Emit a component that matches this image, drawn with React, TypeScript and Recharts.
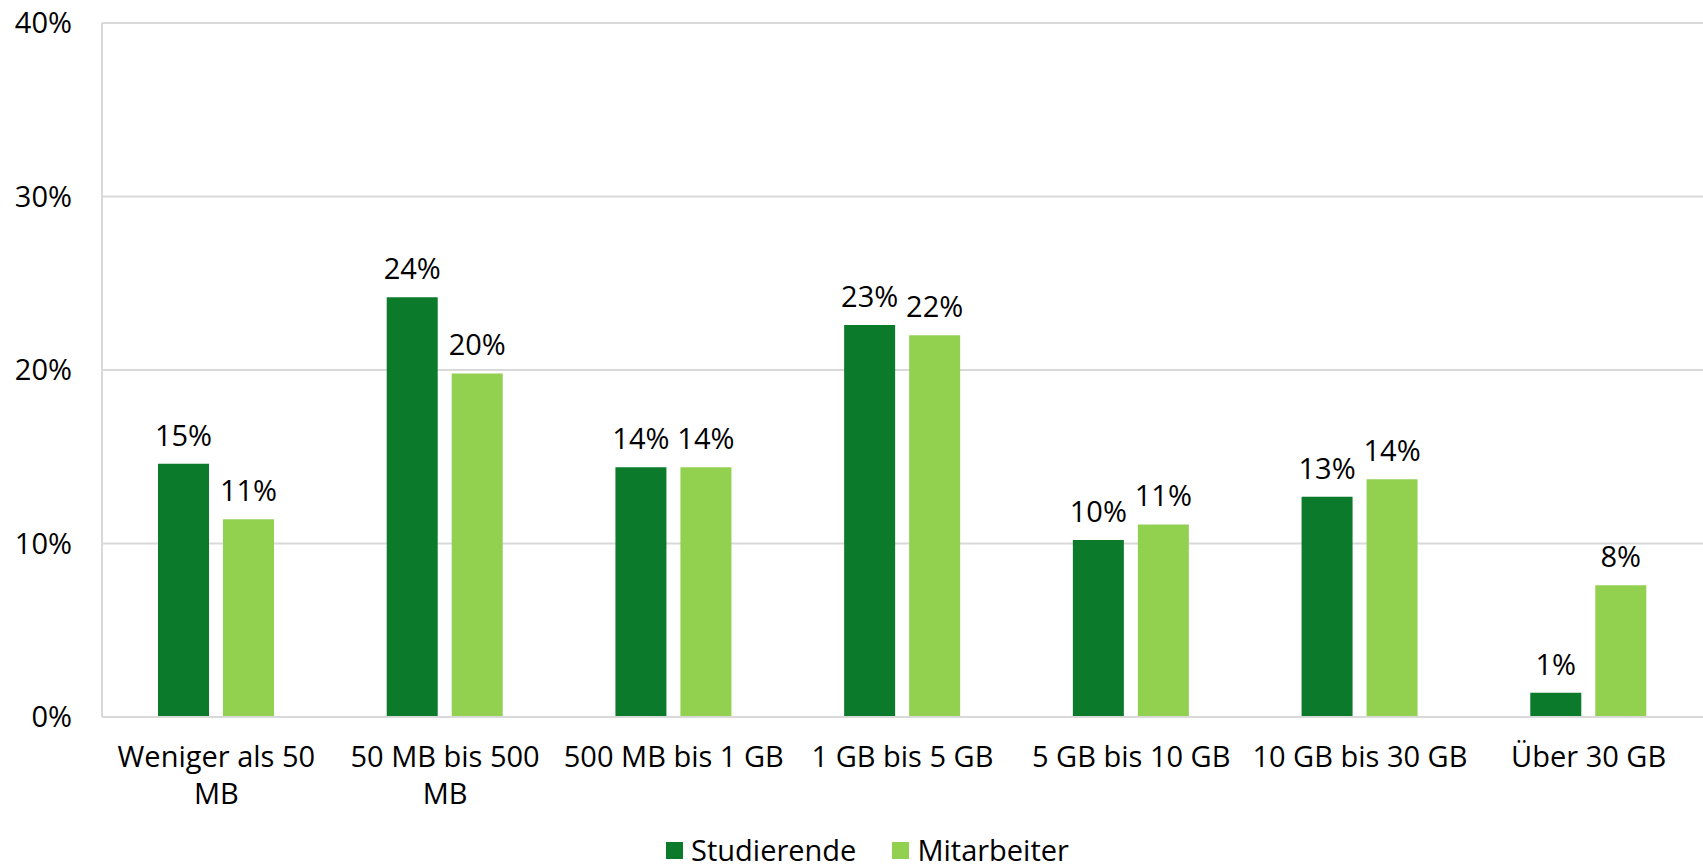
import React from "react";
import {
  BarChart,
  Bar,
  CartesianGrid,
  LabelList,
  Legend,
  XAxis,
  YAxis,
} from "recharts";

const CATEGORIES = [
  "Weniger als 50\nMB",
  "50 MB bis 500\nMB",
  "500 MB bis 1 GB",
  "1 GB bis 5 GB",
  "5 GB bis 10 GB",
  "10 GB bis 30 GB",
  "Über 30 GB",
];
const STUDIERENDE = [14.6, 24.2, 14.4, 22.6, 10.2, 12.7, 1.4];
const MITARBEITER = [11.4, 19.8, 14.4, 22.0, 11.1, 13.7, 7.6];
const Y_TICKS = [0, 10, 20, 30, 40];

const DARK = "#0b7a2a";
const LIGHT = "#92d050";
const FONT = "'Open Sans', 'Noto Sans', sans-serif";
const FS = 29;

const data = CATEGORIES.map((name, i) => ({
  name,
  studierende: STUDIERENDE[i],
  mitarbeiter: MITARBEITER[i],
}));

function CategoryTick({ x, y, payload }: any) {
  const lines = String(payload.value).split("\n");
  return (
    <text x={x} y={y} textAnchor="middle" fontSize={FS} fontFamily={FONT} fill="#000">
      {lines.map((l, i) => (
        <tspan key={i} x={x} dy={i === 0 ? 50 : 37}>
          {l}
        </tspan>
      ))}
    </text>
  );
}

function LegendBox() {
  const items = [
    { label: "Studierende", color: DARK },
    { label: "Mitarbeiter", color: LIGHT },
  ];
  return (
    <div
      style={{
        height: 50,
        boxSizing: "border-box",
        display: "flex",
        justifyContent: "center",
        alignItems: "flex-end",
        gap: 36,
        fontFamily: FONT,
        fontSize: FS,
        color: "#000",
        paddingLeft: 32,
        paddingBottom: 3,
      }}
    >
      {items.map((it) => (
        <span key={it.label} style={{ display: "flex", alignItems: "center", gap: 8, lineHeight: "30px" }}>
          <span style={{ width: 17, height: 17, background: it.color, display: "inline-block" }} />
          {it.label}
        </span>
      ))}
    </div>
  );
}

export default function App() {
  return (
    <div style={{ position: "absolute", left: 0, top: 0, background: "#fff" }}>
      <BarChart
        width={1703}
        height={868}
        data={data}
        margin={{ top: 23, right: 0, left: 0, bottom: 0 }}
        barGap={14}
        barSize={51}
      >
        <CartesianGrid vertical={false} stroke="#d9d9d9" strokeWidth={2} />
        <XAxis
          dataKey="name"
          interval={0}
          height={101}
          tickLine={false}
          tickSize={0}
          tickMargin={0}
          axisLine={{ stroke: "#d9d9d9", strokeWidth: 2 }}
          tick={<CategoryTick />}
        />
        <YAxis
          width={102}
          domain={[0, 40]}
          ticks={Y_TICKS}
          tickFormatter={(v) => `${v}%`}
          tickLine={false}
          tickSize={0}
          tickMargin={30}
          axisLine={{ stroke: "#d9d9d9", strokeWidth: 2 }}
          tick={{ fontSize: FS, fontFamily: FONT, fill: "#000" }}
        />
        <Legend verticalAlign="bottom" content={<LegendBox />} />
        <Bar dataKey="studierende" name="Studierende" fill={DARK} isAnimationActive={false}>
          <LabelList
            dataKey="studierende"
            position="top"
            offset={18}
            formatter={(v: any) => `${Math.round(v)}%`}
            style={{ fontSize: FS, fontFamily: FONT, fill: "#000" }}
          />
        </Bar>
        <Bar dataKey="mitarbeiter" name="Mitarbeiter" fill={LIGHT} isAnimationActive={false}>
          <LabelList
            dataKey="mitarbeiter"
            position="top"
            offset={18}
            formatter={(v: any) => `${Math.round(v)}%`}
            style={{ fontSize: FS, fontFamily: FONT, fill: "#000" }}
          />
        </Bar>
      </BarChart>
    </div>
  );
}
